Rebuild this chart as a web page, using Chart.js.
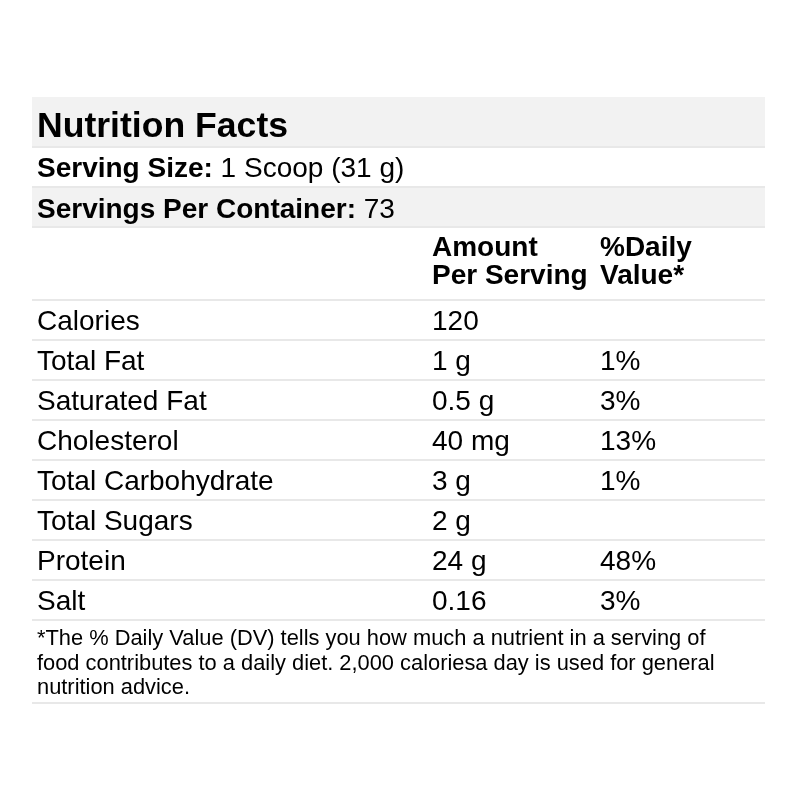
<!DOCTYPE html>
<html>
<head>
<meta charset="utf-8">
<script src="https://cdn.jsdelivr.net/npm/chart.js@4/dist/chart.umd.min.js"></script>
<style>
  html, body { margin: 0; padding: 0; background: #ffffff; }
  #wrap { width: 800px; height: 800px; position: relative; }
</style>
</head>
<body>
<div id="wrap"><canvas id="c" width="800" height="800"></canvas></div>
<script>
// ---- data ----
const title = 'Nutrition Facts';
const servingSizeLabel = 'Serving Size:';
const servingSize = '1 Scoop (31 g)';
const servingsLabel = 'Servings Per Container:';
const servingsPerContainer = '73';
const headerAmount = ['Amount', 'Per Serving'];
const headerDaily = ['%Daily', 'Value*'];
const nutrients = ['Calories', 'Total Fat', 'Saturated Fat', 'Cholesterol', 'Total Carbohydrate', 'Total Sugars', 'Protein', 'Salt'];
const amounts = ['120', '1 g', '0.5 g', '40 mg', '3 g', '2 g', '24 g', '0.16'];
const dailyValues = [null, 1, 3, 13, 1, null, 48, 3];
const footnote = '*The % Daily Value (DV) tells you how much a nutrient in a serving of food contributes to a daily diet. 2,000 caloriesa day is used for general nutrition advice.';

// ---- style ----
const FONT = '"Liberation Sans", Arial, Helvetica, sans-serif';
const TXT = '#000000';
const GRAY = '#f2f2f2';
const LINE = '#e8e8e8';

const tablePlugin = {
  id: 'nutritionTable',
  beforeDraw(chart) {
    const ctx = chart.ctx;
    const ca = chart.chartArea;
    const left = ca.left, w = ca.right - ca.left;
    ctx.save();
    ctx.fillStyle = '#ffffff';
    ctx.fillRect(0, 0, chart.width, chart.height);
    // gray bands
    ctx.fillStyle = GRAY;
    ctx.fillRect(left, 97, w, 50);
    ctx.fillRect(left, 187, w, 40);
    // separators
    ctx.fillStyle = LINE;
    [146, 186, 226].forEach(y => ctx.fillRect(left, y, w, 2));
    const ys = chart.scales.y;
    const n = nutrients.length;
    for (let i = 0; i <= n; i++) {
      const yb = i < n ? ys.getPixelForValue(i) - ys.height / n / 2 : ys.getPixelForValue(n - 1) + ys.height / n / 2;
      ctx.fillRect(left, Math.round(yb) - 1, w, 2);
    }
    ctx.fillRect(left, 702, w, 2);
    ctx.restore();
  },
  afterDraw(chart) {
    const ctx = chart.ctx;
    const ca = chart.chartArea;
    const x0 = ca.left + 5;
    const xAmt = 432, xDv = 600;
    const ys = chart.scales.y;
    ctx.save();
    ctx.fillStyle = TXT;
    ctx.textBaseline = 'alphabetic';
    ctx.textAlign = 'left';

    ctx.font = 'bold 35.6px ' + FONT;
    ctx.fillText(title, x0, 136.5);

    ctx.font = 'bold 28px ' + FONT;
    ctx.fillText(servingSizeLabel, x0, 177);
    let wLab = ctx.measureText(servingSizeLabel + ' ').width;
    ctx.font = '28px ' + FONT;
    ctx.fillText(servingSize, x0 + wLab, 177);

    ctx.font = 'bold 28px ' + FONT;
    ctx.fillText(servingsLabel, x0, 217.5);
    wLab = ctx.measureText(servingsLabel + ' ').width;
    ctx.font = '28px ' + FONT;
    ctx.fillText(servingsPerContainer, x0 + wLab, 217.5);

    ctx.font = 'bold 28px ' + FONT;
    ctx.fillText(headerAmount[0], xAmt, 256);
    ctx.fillText(headerAmount[1], xAmt, 284);
    ctx.fillText(headerDaily[0], xDv, 256);
    ctx.fillText(headerDaily[1], xDv, 284);

    ctx.font = '28px ' + FONT;
    nutrients.forEach((name, i) => {
      const yc = ys.getPixelForValue(i) + 10;
      ctx.fillText(name, x0, yc);
      ctx.fillText(amounts[i], xAmt, yc);
      const dv = chart.data.datasets[0].data[i];
      if (dv !== null && dv !== undefined) ctx.fillText(dv + '%', xDv, yc);
    });

    // footnote wrap
    ctx.font = '21.85px ' + FONT;
    const words = footnote.split(' ');
    const maxW = 700;
    const lines = [];
    let cur = '';
    words.forEach(wd => {
      const t = cur ? cur + ' ' + wd : wd;
      if (ctx.measureText(t).width > maxW && cur) { lines.push(cur); cur = wd; } else cur = t;
    });
    if (cur) lines.push(cur);
    lines.forEach((ln, k) => ctx.fillText(ln, x0, 645 + k * 24.7));
    ctx.restore();
  }
};

new Chart(document.getElementById('c'), {
  type: 'bar',
  data: {
    labels: nutrients,
    datasets: [{
      label: '%Daily Value',
      data: dailyValues,
      backgroundColor: 'rgba(0,0,0,0)',
      borderWidth: 0
    }]
  },
  options: {
    indexAxis: 'y',
    responsive: false,
    animation: false,
    layout: { padding: { top: 300, bottom: 180, left: 32, right: 35 } },
    plugins: { legend: { display: false }, tooltip: { enabled: false } },
    scales: {
      x: { display: false, min: 0, max: 100 },
      y: { display: false, offset: true, grid: { display: false } }
    }
  },
  plugins: [tablePlugin]
});
</script>
</body>
</html>
